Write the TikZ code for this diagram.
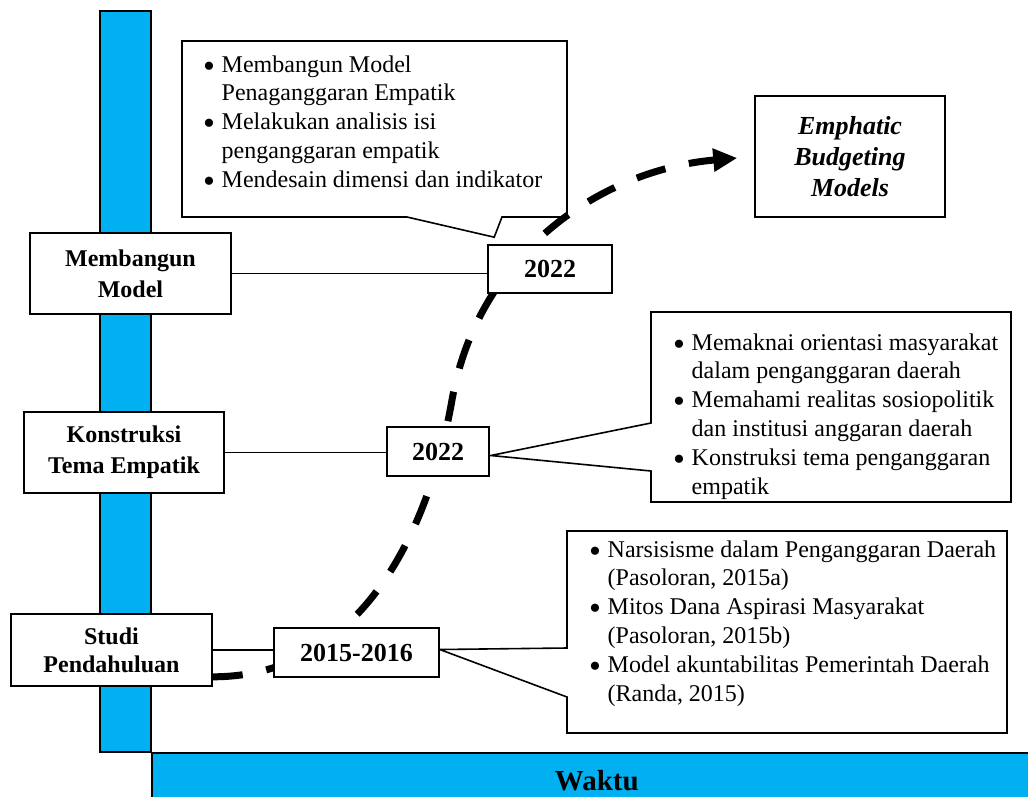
\documentclass[tikz,border=0pt]{standalone}
\usepackage{fontspec}
\setmainfont{Liberation Serif}
\usepackage{tikz}
\usetikzlibrary{%
  calc,%
  backgrounds,%
  arrows.meta%
}
\definecolor{birumuda}{RGB}{0,176,240}

\newcommand{\butir}[1]{\strut\makebox[18.5pt][l]{\raisebox{-5pt}{\fontsize{34}{34}\selectfont\textbullet}}#1}
\newcommand{\sambung}[1]{\strut\hspace*{18.5pt}#1}

\begin{document}
\begin{tikzpicture}[x=1pt,y=1pt,
  kotak/.style={draw,line width=1.6pt,fill=white,align=center,inner sep=0pt,font=\fontsize{24}{31}\selectfont\bfseries},
  tahun/.style={draw,line width=1.6pt,fill=white,inner sep=0pt,minimum height=49pt,font=\fontsize{26}{30}\selectfont\bfseries},
  isi/.style={align=left,inner sep=0pt,anchor=north west,font=\fontsize{24}{28.8}\selectfont},
  garis/.style={line width=1.2pt},
  bingkai/.style={line width=1.6pt,line join=miter},
  sumbu/.style={draw,fill=birumuda,line width=1.6pt},
  alur/.style={line width=7pt,dash pattern=on 30pt off 24pt,-{Triangle[length=24pt,width=22pt]},shorten >=17pt}
]
\useasboundingbox (0,0) rectangle (1028,-796);

\node[kotak,minimum width=201pt,minimum height=81pt] (membangun) at (130.5,-273.5) {Membangun\\Model};
\node[kotak,minimum width=200pt,minimum height=81pt] (konstruksi) at (124,-452.5) {Konstruksi\\Tema Empatik};
\node[kotak,minimum width=201pt,minimum height=72pt,font=\fontsize{24}{28}\selectfont\bfseries] (studi) at (111.5,-650) {Studi\\Pendahuluan};
%
\node[tahun,minimum width=124pt,minimum height=48pt] (thnA) at (550,-269) {2022};
\node[tahun,minimum width=102pt] (thnB) at (438,-451.5) {2022};
\node[tahun,minimum width=165pt] (thnC) at (356.5,-652.5) {2015-2016};
%
\node[kotak,minimum width=190pt,minimum height=121pt,font=\fontsize{26}{31}\selectfont\bfseries\itshape] (model) at (850,-156.5) {Emphatic\\Budgeting\\Models};
%
\node[isi] (isiA) at (203,-51.8) {\butir{Membangun Model}\\
\sambung{Penaganggaran Empatik}\\
\butir{Melakukan analisis isi}\\
\sambung{penganggaran empatik}\\
\butir{Mendesain dimensi dan indikator}};
\node[isi] (isiB) at (673,-329.8) {\butir{Memaknai orientasi masyarakat}\\
\sambung{dalam penganggaran daerah}\\
\butir{Memahami realitas sosiopolitik}\\
\sambung{dan institusi anggaran daerah}\\
\butir{Konstruksi tema penganggaran}\\
\sambung{empatik}};
\node[isi] (isiC) at (589,-536.8) {\butir{Narsisisme dalam Penganggaran Daerah}\\
\sambung{(Pasoloran, 2015a)}\\
\butir{Mitos Dana Aspirasi Masyarakat}\\
\sambung{(Pasoloran, 2015b)}\\
\butir{Model akuntabilitas Pemerintah Daerah}\\
\sambung{(Randa, 2015)}};

\begin{scope}[on background layer]
% sumbu waktu
\draw[sumbu] (100,-11) rectangle (151,-752);
\node[sumbu,anchor=north west,minimum width=890pt,minimum height=56pt,inner sep=0pt,font=\fontsize{29}{33}\selectfont\bfseries] (waktu) at (151,-752) {Waktu};
%
\draw[garis] (membangun) -- (membangun -| thnA.west)
             (konstruksi) -- (konstruksi -| thnB.west)
             (studi) -- (studi -| thnC.west);
%
\draw[bingkai] (182,-41) -- (567,-41) -- (567,-217) -- (502,-217)
  -- ([shift={(7pt,7pt)}]thnA.north west) -- (407,-217) -- (182,-217) -- cycle;
\draw[bingkai] (651,-312) -- (1011,-312) -- (1011,-502) -- (651,-502) -- (651,-471)
  -- ([shift={(1pt,-4pt)}]thnB.east) -- (651,-423) -- cycle;
\draw[bingkai] (567,-531) -- (1007,-531) -- (1007,-733) -- (567,-733) -- (567,-697)
  -- ([yshift=3pt]thnC.east) -- (567,-648) -- cycle;
%
\coordinate (belok) at (452,-400);
\draw[alur] ([yshift=10pt]studi.south east) to[out=0,in=-100] (belok)
  to[out=80,in=185] (model.west);
\end{scope}
\end{tikzpicture}
\end{document}
